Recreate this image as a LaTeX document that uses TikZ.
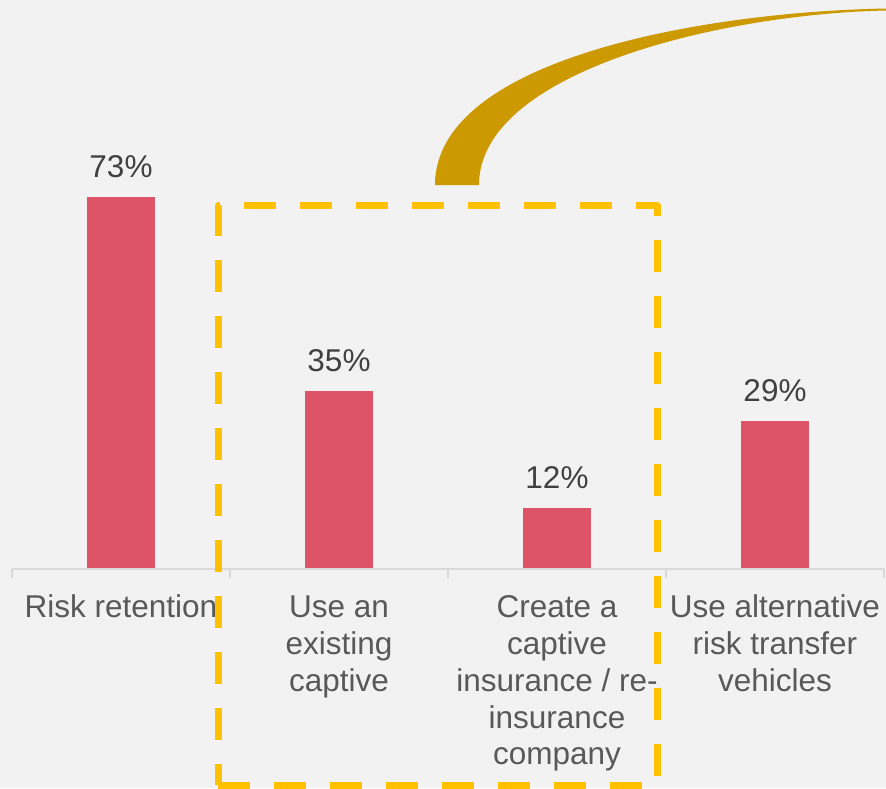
\documentclass[tikz,border=0pt]{standalone}
\usepackage{fontspec}
\setmainfont{Liberation Sans}
\definecolor{bg}{HTML}{F2F2F2}
\definecolor{barc}{HTML}{DD5469}
\definecolor{goldc}{HTML}{CC9900}
\definecolor{dashc}{HTML}{FFC000}
\definecolor{axisc}{HTML}{D9D9D9}
\definecolor{labc}{HTML}{595959}
\definecolor{valc}{HTML}{404040}
\begin{document}
\begin{tikzpicture}[x=1pt,y=-1pt,
  bar/.style={fill=barc,draw=none},
  val/.style={anchor=base,inner sep=0pt,text=valc,font=\fontsize{31.5}{36.7}\selectfont},
  cat/.style={anchor=north,inner sep=0pt,align=center,text=labc,font=\fontsize{31.5}{36.7}\selectfont},
  axisline/.style={draw=axisc,line width=1.5pt},
  hilite/.style={draw=dashc,line width=7pt,dash pattern=on 32pt off 24pt,dash phase=11pt,line join=round}]
\fill[bg] (0,0) rectangle (886,788);
\useasboundingbox (0,0) rectangle (886,788);
% curve
\fill[goldc] (435,185) .. controls (435,60) and (700,12) .. (886,8.5)
  -- (886,10.5) .. controls (720,14) and (479,72) .. (479,185) -- cycle;
% bars
\fill[bar] (87,569) rectangle (155,197);
\fill[bar] (305,569) rectangle (373,390.6);
\fill[bar] (523,569) rectangle (591,507.8);
\fill[bar] (741,569) rectangle (809,421.2);
% axis
\draw[axisline] (12,569) -- (884,569);
\foreach \x in {12,230,448,666,884} \draw[axisline] (\x,569) -- (\x,578);
% values
\node[val] (v1) at (121,177.7) {73\%};
\node[val] (v2) at (339,371.3) {35\%};
\node[val] (v3) at (557,488.5) {12\%};
\node[val] (v4) at (775,401.9) {29\%};
% categories
\node[cat] (c1) at (121,594.7) {\rule{0pt}{23pt}Risk retention};
\node[cat] (c2) at (339,594.7) {\rule{0pt}{23pt}Use an\\existing\\captive};
\node[cat] (c3) at (557,594.7) {\rule{0pt}{23pt}Create a\\captive\\insurance / re-\\insurance\\company};
\node[cat] (c4) at (775,594.7) {\rule{0pt}{23pt}Use alternative\\risk transfer\\vehicles};
% dashed highlight box
\coordinate (bl) at (218,785);
\coordinate (tl) at (218,205.5);
\coordinate (tr) at (657,205.5);
\coordinate (br) at (657,785);
\draw[hilite] (bl) -- (tl) -- (tr) -- (br) -- cycle;
\end{tikzpicture}
\end{document}
